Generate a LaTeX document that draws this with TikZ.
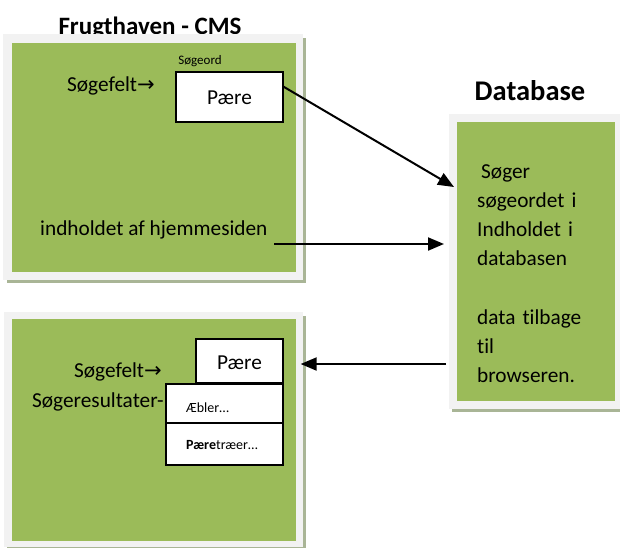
\documentclass[tikz,border=0pt]{standalone}
\usepackage{fontspec}
\setmainfont{Carlito}[Ligatures=NoCommon]
\newfontfamily\symfont{DejaVu Sans}
\usetikzlibrary{arrows.meta,calc}
\definecolor{olive}{HTML}{9BBB59}
\definecolor{framegray}{HTML}{F2F2F2}
\definecolor{shadowc}{HTML}{A9B596}
\tikzset{
  wbox/.style={fill=white, draw=black, line width=1.3pt, inner sep=0pt},
  big/.style={font=\fontsize{21.3}{25}\selectfont},
  small/.style={font=\fontsize{13}{15}\selectfont},
  smallres/.style={font=\fontsize{14}{16}\selectfont},
  titlef/.style={font=\fontsize{25}{30}\selectfont\bfseries},
  titledb/.style={font=\fontsize{28.5}{33}\selectfont\bfseries},
  conn/.style={line width=2pt, -{Triangle[length=16pt,width=13pt]}},
  lbl/.style={inner sep=0pt, anchor=west}
}
\newcommand{\arr}{{\symfont\fontsize{21}{24}\selectfont →}}
\begin{document}
\begin{tikzpicture}[x=1pt,y=-1pt]
\useasboundingbox (0,0) rectangle (620,547);
% ---- titles
\node[titlef, inner sep=0pt] (t1) at (150,27.5) {Frugthaven - CMS};
\node[titledb, inner sep=0pt] (t2) at (530,91) {Database};
% ---- top CMS box
\fill[shadowc] (7,38) rectangle (306,283);
\fill[framegray] (3,34) rectangle (303,280);
\fill[olive] (12,43) rectangle (296,272);
\node[small, inner sep=0pt] (sogeord) at (200,61) {Søgeord};
\node[big, lbl] (sf1) at (67,86) {Søgefelt\arr};
\node[wbox, minimum width=107pt, minimum height=50pt] (pare1) at (229.5,97) {};
\node[big, inner sep=0pt] (pare1t) at (229.5,98) {Pære};
\node[big, lbl] (indh) at (40,230) {indholdet af hjemmesiden};
% ---- database box
\fill[shadowc] (452,118) rectangle (623,412);
\fill[framegray] (449,114) rectangle (620,409);
\fill[olive] (457,122) rectangle (615,401);
\node[big, anchor=north west, inner sep=0pt, align=left, text width=140pt,
      font=\fontsize{21.3}{29.2}\selectfont] (dbtxt) at (477,164)
  {\hspace*{4pt}Søger\\søgeordet i\\Indholdet i\\databasen\\[29.2pt]data tilbage\\til\\browseren.};
\coordinate (dbin1) at (454,187);
\coordinate (dbin2) at (444,244);
\coordinate (dbout) at (446,364);
% ---- bottom CMS box
\fill[shadowc] (7,316) rectangle (306,551);
\fill[framegray] (4,312) rectangle (303,547);
\fill[olive] (12,319) rectangle (296,541);
\node[big, lbl] (sf2) at (74,372) {Søgefelt\arr};
\node[big, lbl] (sres) at (32,402) {Søgeresultater-};
\node[wbox, minimum width=87pt, minimum height=44pt] (pare2) at (239.5,361) {};
\node[big, inner sep=0pt] (pare2t) at (239.5,363) {Pære};
\node[wbox, minimum width=117pt, minimum height=39pt] (res1) at (224.5,403.5) {};
\node[wbox, minimum width=117pt, minimum height=42pt] (res2) at (224.5,444) {};
\node[smallres, lbl] (r1t) at (186,408) {Æbler…};
\node[smallres, lbl] (r2t) at (186,445) {\textbf{Pære}træer…};
% ---- connectors
\coordinate (a1s) at ($(pare1.north east)!0.3!(pare1.south east)$);
\draw[conn] (a1s) -- (dbin1);
\coordinate (a2s) at (274,244);
\draw[conn] (a2s) -- (dbin2);
\coordinate (a3e) at (pare2.east);
\draw[conn] (dbout) -- ($(a3e)+(17,3)$);
\end{tikzpicture}
\end{document}
